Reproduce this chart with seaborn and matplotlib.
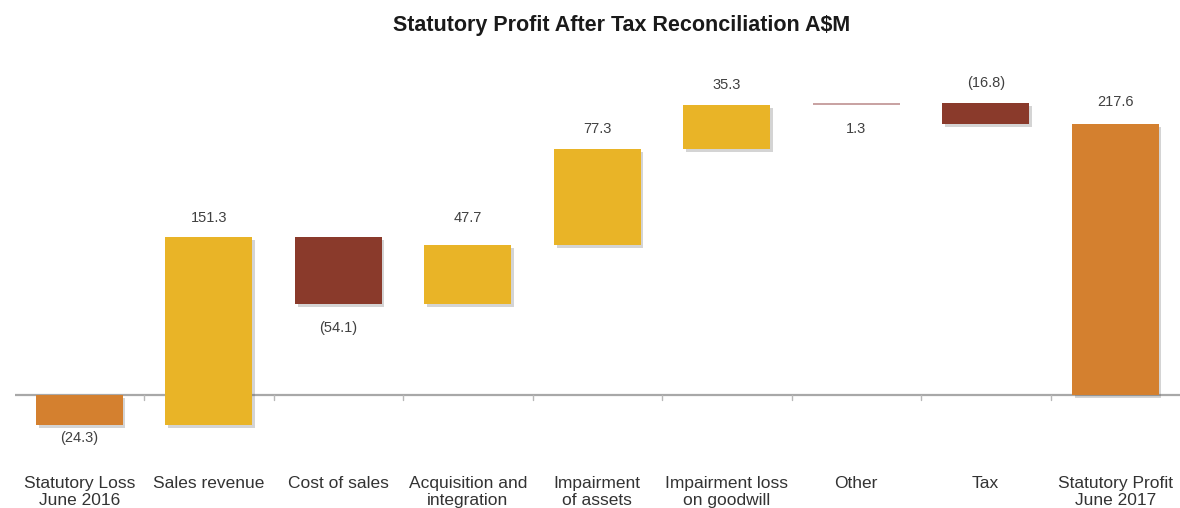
import numpy as np
import pandas as pd
import matplotlib
matplotlib.use("Agg")
import matplotlib.pyplot as plt
import matplotlib.patheffects as pe
import seaborn as sns

categories = ["Statutory Loss\nJune 2016", "Sales revenue", "Cost of sales",
              "Acquisition and\nintegration", "Impairment\nof assets",
              "Impairment loss\non goodwill", "Other", "Tax",
              "Statutory Profit\nJune 2017"]
changes = [-24.3, 151.3, -54.1, 47.7, 77.3, 35.3, 1.3, -16.8, 217.6]
kinds = ["total", "up", "down", "up", "up", "up", "other", "down", "total"]
value_labels = ["(24.3)", "151.3", "(54.1)", "47.7", "77.3", "35.3", "1.3", "(16.8)", "217.6"]
label_side = ["below", "above", "below", "above", "above", "above", "below", "above", "above"]

colors = {"total": "#D4802F", "up": "#E9B427", "down": "#8A3A2B", "other": "#C9A3A3"}
# label offsets in points (style only)
label_offsets = [-9, 14, -17, 19.5, 14, 14, -17, 14.5, 16]

# waterfall bottoms
bottoms = []
running = 0.0
for i, (c, k) in enumerate(zip(changes, kinds)):
    if k == "total" and i > 0:
        bottoms.append(0.0)
        running = c
    else:
        bottoms.append(running)
        running += c
bottoms = np.array(bottoms)
heights = np.array(changes)

sns.set_theme(style="white")
plt.rcParams["font.family"] = ["Liberation Sans", "DejaVu Sans"]

fig = plt.figure(figsize=(11.8, 5.08), dpi=100)
ax = fig.add_axes([14.5 / 1180, 1 - 455 / 508, 1 - 14.5 / 1180, (455 - 60) / 508])

df = pd.DataFrame({"category": categories, "change": heights})
sns.barplot(data=df, x="category", y="change", bottom=bottoms, width=0.67,
            color=colors["up"], saturation=1, ax=ax, errorbar=None, zorder=3)

for p, k in zip(ax.patches, kinds):
    p.set_facecolor(colors[k])
    p.set_edgecolor("none")
    if k != "other":
        p.set_path_effects([pe.SimplePatchShadow(offset=(2, -2), alpha=0.25, shadow_rgbFace="#555555"), pe.Normal()])

ax.set_xlim(-0.5, len(categories) - 0.5)
ax.set_ylim(-48.2, 269.3)

# zero axis line with small separators
ax.axhline(0, color="#A8A8A8", lw=1.6, zorder=2)
for b in np.arange(0.5, len(categories) - 0.5, 1.0):
    ax.plot([b, b], [0, -4], color="#B8B8B8", lw=1.0, zorder=2)

# value labels
for i, (lbl, side) in enumerate(zip(value_labels, label_side)):
    lo = min(bottoms[i], bottoms[i] + heights[i])
    hi = max(bottoms[i], bottoms[i] + heights[i])
    anchor = hi if side == "above" else lo
    ax.annotate(lbl, (i, anchor), xytext=(0, label_offsets[i]), textcoords="offset points",
                ha="center", va="center", fontsize=10.5, color="#404040")

for s in ax.spines.values():
    s.set_visible(False)
ax.set_yticks([])
ax.set_xlabel("")
ax.set_ylabel("")
ax.tick_params(axis="x", length=0, pad=15, labelsize=12.5, labelcolor="#333333")
ax.set_xticks(range(len(categories)))
ax.set_xticklabels(categories, linespacing=1.2)
ax.grid(False)

fig.text(622 / 1180, 1 - 26 / 508, "Statutory Profit After Tax Reconciliation A$M",
         ha="center", va="center", fontsize=15.5, fontweight="bold", color="#1a1a1a")

fig.savefig("out.png", dpi=100)
